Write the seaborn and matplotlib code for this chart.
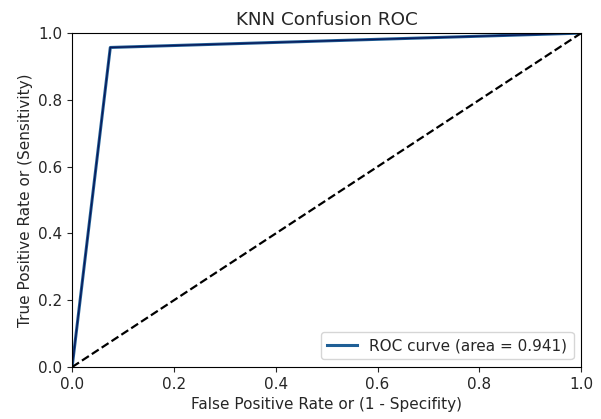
import matplotlib
matplotlib.use("Agg")
import matplotlib.pyplot as plt
import seaborn as sns
import pandas as pd

fpr = [0.0, 0.075, 1.0]
tpr = [0.0, 0.957, 1.0]
diag = [0.0, 1.0]
auc_label = "ROC curve (area = 0.941)"

plt.rcParams["font.size"] = 11
plt.rcParams["axes.titlesize"] = 13.2
plt.rcParams["text.color"] = "#262626"
plt.rcParams["axes.labelcolor"] = "#262626"
plt.rcParams["xtick.color"] = "#262626"
plt.rcParams["ytick.color"] = "#262626"

fig, ax = plt.subplots(figsize=(6.01, 4.19), dpi=100)
df = pd.DataFrame({"fpr": fpr, "tpr": tpr})
sns.lineplot(data=df, x="fpr", y="tpr", ax=ax, color="#1f5f96", lw=2.2,
             label=auc_label, sort=False, estimator=None)
sns.lineplot(data=df, x="fpr", y="tpr", ax=ax, color="#0a1a5a", lw=1.0,
             sort=False, estimator=None, legend=False)
ax.plot(diag, diag, color="black", lw=1.6, linestyle="--")
ax.set_xlim(0.0, 1.0)
ax.set_ylim(0.0, 1.0)
ax.set_xlabel("False Positive Rate or (1 - Specifity)")
ax.set_ylabel("True Positive Rate or (Sensitivity)")
ax.set_title("KNN Confusion ROC")
ax.legend(loc="lower right")
fig.subplots_adjust(left=0.12, right=0.967, top=0.921, bottom=0.124)
fig.savefig("out.png", dpi=100)
